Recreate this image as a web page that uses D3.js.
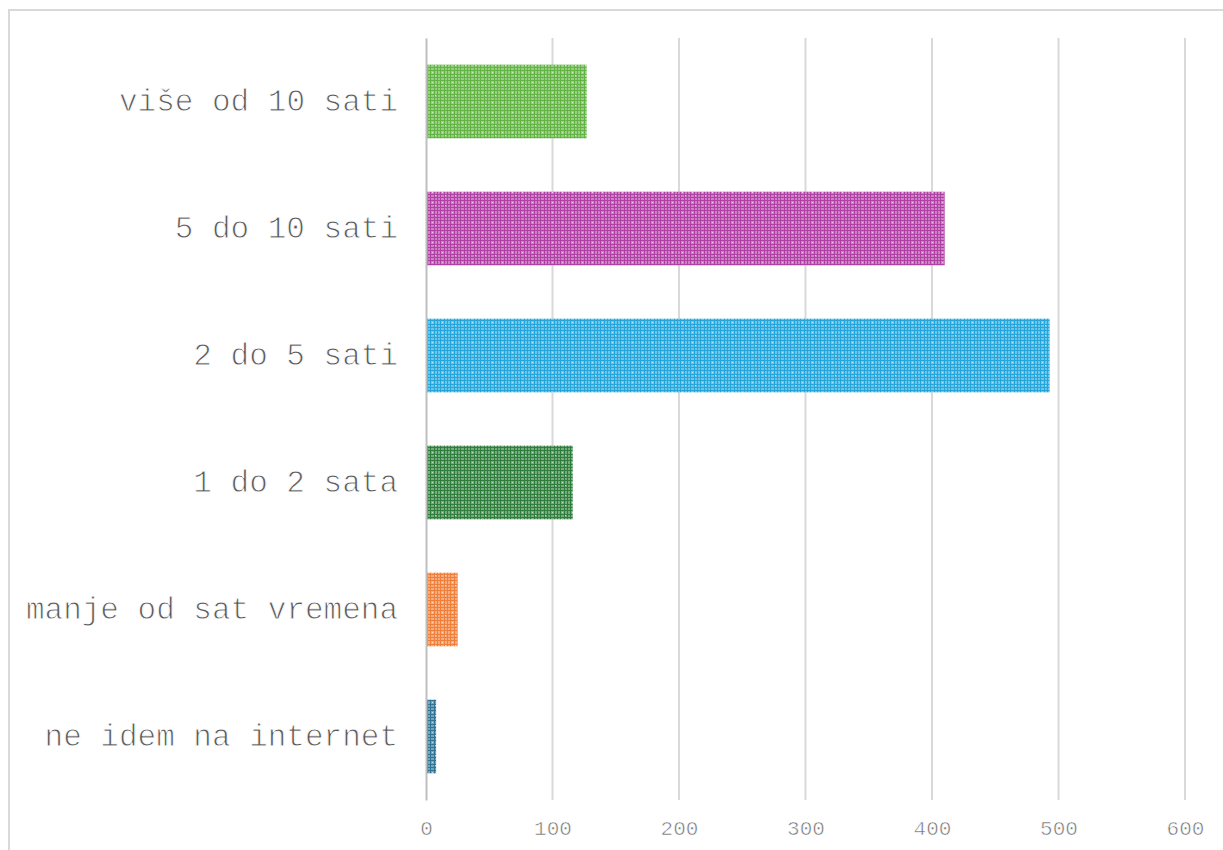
<!DOCTYPE html>
<html>
<head>
<meta charset="utf-8">
<script src="https://cdn.jsdelivr.net/npm/d3@7"></script>
<style>
  body { margin: 0; background: #fff; }
</style>
</head>
<body>
<div id="chart"></div>
<script>
// Hours per day on the internet, horizontal bars

// Data
const categories = ["više od 10 sati", "5 do 10 sati", "2 do 5 sati", "1 do 2 sata", "manje od sat vremena", "ne idem na internet"];
const values = [127, 410, 493, 116, 25, 8];
const barColors = ["#62b543", "#b23fa6", "#22a6dc", "#2f7f3c", "#f07f3a", "#2f7596"];
const xTicks = [0, 100, 200, 300, 400, 500, 600];

const width = 1223, height = 850,
      marginTop = 38, marginRight = 38, marginBottom = 50, marginLeft = 426;

const svg = d3.select("#chart")
  .append("svg")
    .attr("width", width)
    .attr("height", height)
    .attr("style", "display:block; font-family: 'Liberation Mono', 'Courier New', monospace;");

// Frame (clipped at right and bottom like the source)
svg.append("rect")
  .attr("x", 9)
  .attr("y", 10)
  .attr("width", width + 10)
  .attr("height", height + 10)
  .attr("fill", "none")
  .attr("stroke", "#d9d9d9")
  .attr("stroke-width", 2);

const x = d3.scaleLinear()
  .domain([0, 600])
  .range([marginLeft, width - marginRight]);

const y = d3.scaleBand()
  .domain(categories)
  .range([marginTop, height - marginBottom])
  .paddingInner(0.42)
  .paddingOuter(0.21);

// Patterns: small plaid of each colour
const defs = svg.append("defs");
barColors.forEach((c, i) => {
  const light = d3.interpolateRgb(c, "#fff")(0.35);
  const p = defs.append("pattern")
    .attr("id", "pat" + i)
    .attr("patternUnits", "userSpaceOnUse")
    .attr("width", 10)
    .attr("height", 10);
  p.append("rect").attr("width", 10).attr("height", 10).attr("fill", light);
  [0, 4, 7].forEach(o => {
    p.append("rect").attr("x", o).attr("y", 0).attr("width", 1).attr("height", 10).attr("fill", c);
    p.append("rect").attr("x", 0).attr("y", o).attr("width", 10).attr("height", 1).attr("fill", c);
  });
  p.append("rect").attr("x", 2).attr("y", 2).attr("width", 1).attr("height", 1).attr("fill", "#fff").attr("fill-opacity", 0.6);
  p.append("rect").attr("x", 5).attr("y", 5).attr("width", 1).attr("height", 1).attr("fill", "#fff").attr("fill-opacity", 0.6);
});

// Grid
svg.append("g")
  .attr("stroke", "#d9d9d9")
  .attr("stroke-width", 2)
  .selectAll("line")
  .data(xTicks.slice(1))
  .join("line")
    .attr("x1", d => x(d))
    .attr("x2", d => x(d))
    .attr("y1", marginTop)
    .attr("y2", height - marginBottom);

// Bars
svg.append("g")
  .selectAll("rect")
  .data(values)
  .join("rect")
    .attr("x", x(0))
    .attr("y", (d, i) => y(categories[i]))
    .attr("width", d => x(d) - x(0))
    .attr("height", y.bandwidth())
    .attr("fill", (d, i) => `url(#pat${i})`);

// Category axis (white stroke on top thins the glyphs, closer to Courier New)
svg.append("g")
  .attr("transform", `translate(${marginLeft},0)`)
  .call(d3.axisLeft(y).tickSize(0).tickPadding(28))
  .call(g => g.select(".domain").attr("stroke", "#bfbfbf").attr("stroke-width", 2))
  .call(g => g.selectAll("text")
    .attr("font-family", "'Liberation Mono', monospace")
    .attr("font-size", "31px")
    .attr("fill", "#595959")
    .attr("stroke", "#fff")
    .attr("stroke-width", 0.9));

// Value axis
svg.append("g")
  .attr("transform", `translate(0,${height - marginBottom})`)
  .call(d3.axisBottom(x).tickValues(xTicks).tickSize(0).tickPadding(20))
  .call(g => g.select(".domain").remove())
  .call(g => g.selectAll("text")
    .attr("font-family", "'Liberation Mono', monospace")
    .attr("font-size", "21px")
    .attr("fill", "#6f6f6f")
    .attr("stroke", "#fff")
    .attr("stroke-width", 0.6));
</script>
</body>
</html>
